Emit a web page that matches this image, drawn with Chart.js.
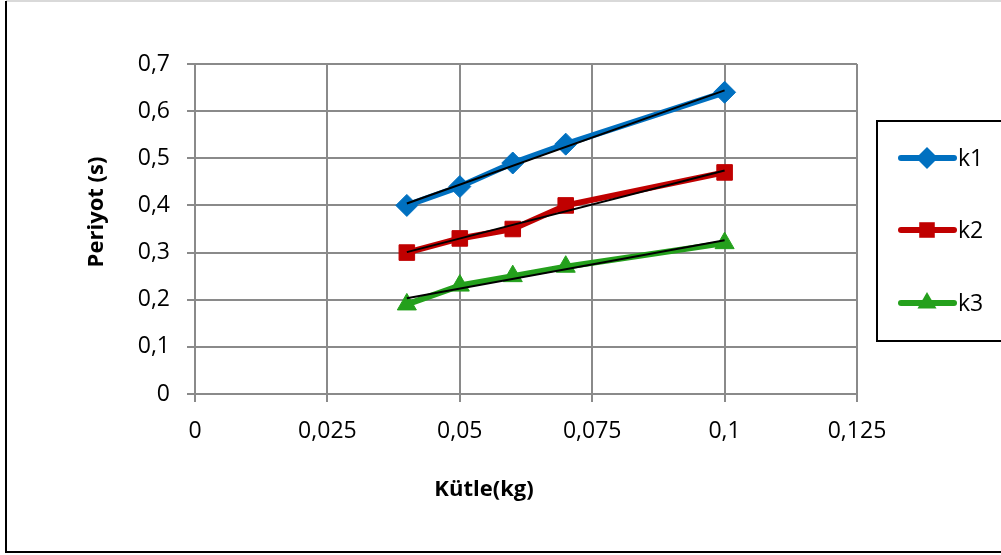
<!DOCTYPE html>
<html>
<head>
<meta charset="utf-8">
<script src="https://cdn.jsdelivr.net/npm/chart.js@4.4.0/dist/chart.umd.min.js"></script>
<style>
  html, body { margin: 0; padding: 0; background: #fff; }
  #wrap { width: 1001px; height: 555px; }
</style>
</head>
<body>
<div id="wrap"><canvas id="chart" width="1001" height="555"></canvas></div>
<script>
const masses = [0.04, 0.05, 0.06, 0.07, 0.1]
const periodK1 = [0.40, 0.44, 0.49, 0.53, 0.64]
const periodK2 = [0.30, 0.33, 0.35, 0.40, 0.47]
const periodK3 = [0.19, 0.23, 0.25, 0.27, 0.32]

// black trend lines, end points
const trendX = [0.04, 0.1]
const trendK1 = [0.404, 0.644]
const trendK2 = [0.301, 0.474]
const trendK3 = [0.203, 0.326]

const xTicks = [0, 0.025, 0.05, 0.075, 0.1, 0.125]
const yTicks = [0, 0.1, 0.2, 0.3, 0.4, 0.5, 0.6, 0.7]

const seriesNames = ['k1', 'k2', 'k3']
const seriesColors = ['#0070C0', '#C00000', '#24A01C']
const seriesPoints = ['rectRot', 'rect', 'triangle']

const FONT = "'Open Sans', sans-serif"
const GRID = '#8a8a8a'

const toPoints = (xs, ys) => xs.map((x, i) => ({ x, y: ys[i] }))
const comma = v => String(+Number(v).toFixed(3)).replace('.', ',')

const seriesDataset = (idx, values) => ({
  label: seriesNames[idx],
  data: toPoints(masses, values),
  borderColor: seriesColors[idx],
  backgroundColor: seriesColors[idx],
  borderWidth: 6,
  borderJoinStyle: 'round',
  borderCapStyle: 'round',
  pointStyle: seriesPoints[idx],
  pointRadius: 11,
  pointBorderWidth: 1,
  tension: 0,
  order: 1
})

const trendDataset = values => ({
  label: 'trend',
  data: toPoints(trendX, values),
  borderColor: '#000',
  borderWidth: 2,
  pointRadius: 0,
  tension: 0,
  order: 0
})

const drawMarker = (ctx, style, x, y, r, color) => {
  ctx.fillStyle = color
  ctx.beginPath()
  if (style === 'rectRot') {
    ctx.moveTo(x, y - r)
    ctx.lineTo(x + r, y)
    ctx.lineTo(x, y + r)
    ctx.lineTo(x - r, y)
  } else if (style === 'rect') {
    const s = r * Math.SQRT1_2
    ctx.rect(x - s, y - s, 2 * s, 2 * s)
  } else {
    const h = Math.sqrt(3) / 2
    ctx.moveTo(x, y - r)
    ctx.lineTo(x + r * h, y + r / 2)
    ctx.lineTo(x - r * h, y + r / 2)
  }
  ctx.closePath()
  ctx.fill()
}

const decorPlugin = {
  id: 'decor',
  afterDraw(chart) {
    const ctx = chart.ctx
    ctx.save()

    // outer frame
    ctx.lineWidth = 2
    ctx.strokeStyle = '#d9d9d9'
    ctx.beginPath()
    ctx.moveTo(6, 1)
    ctx.lineTo(1001, 1)
    ctx.stroke()
    ctx.strokeStyle = '#000'
    ctx.beginPath()
    ctx.moveTo(6, 1)
    ctx.lineTo(6, 552)
    ctx.lineTo(1002, 552)
    ctx.stroke()

    // axis titles
    ctx.fillStyle = '#000'
    ctx.font = 'bold 22px ' + FONT
    ctx.textAlign = 'center'
    ctx.textBaseline = 'middle'
    ctx.fillText('Kütle(kg)', 484, 490)
    ctx.save()
    ctx.translate(97, 212)
    ctx.rotate(-Math.PI / 2)
    ctx.fillText('Periyot (s)', 0, 0)
    ctx.restore()

    // legend box
    ctx.lineWidth = 2
    ctx.strokeStyle = '#000'
    ctx.strokeRect(877, 121, 140, 220)
    const rows = [158, 230, 303]
    ctx.font = '23px ' + FONT
    ctx.textAlign = 'left'
    rows.forEach((y, i) => {
      ctx.strokeStyle = seriesColors[i]
      ctx.lineWidth = 6
      ctx.lineCap = 'round'
      ctx.beginPath()
      ctx.moveTo(901, y)
      ctx.lineTo(954, y)
      ctx.stroke()
      drawMarker(ctx, seriesPoints[i], 927, y, 11, seriesColors[i])
      ctx.fillStyle = '#000'
      ctx.fillText(seriesNames[i], 958, y + 1)
    })
    ctx.restore()
  }
}

new Chart(document.getElementById('chart'), {
  type: 'line',
  data: {
    datasets: [
      trendDataset(trendK1),
      trendDataset(trendK2),
      trendDataset(trendK3),
      seriesDataset(0, periodK1),
      seriesDataset(1, periodK2),
      seriesDataset(2, periodK3)
    ]
  },
  options: {
    responsive: false,
    animation: false,
    layout: { padding: { top: 64, right: 144, left: 0, bottom: 0 } },
    plugins: {
      legend: { display: false },
      tooltip: { enabled: false }
    },
    scales: {
      x: {
        type: 'linear',
        min: 0,
        max: 0.125,
        afterBuildTicks: scale => {
          scale.ticks = xTicks.map(value => ({ value }))
        },
        afterFit: scale => {
          scale.height = 161
          scale.paddingLeft = 0
          scale.paddingRight = 0
        },
        grid: { color: GRID, lineWidth: 2, tickLength: 8, tickColor: GRID },
        border: { color: GRID, width: 2 },
        ticks: {
          color: '#000',
          padding: 16,
          maxRotation: 0,
          font: { family: FONT, size: 23 },
          callback: v => comma(v)
        }
      },
      y: {
        min: 0,
        max: 0.7,
        afterBuildTicks: scale => {
          scale.ticks = yTicks.map(value => ({ value }))
        },
        afterFit: scale => {
          scale.width = 195
          scale.paddingTop = 0
          scale.paddingBottom = 0
        },
        grid: { color: GRID, lineWidth: 2, tickLength: 8, tickColor: GRID },
        border: { color: GRID, width: 2 },
        ticks: {
          color: '#000',
          padding: 17,
          font: { family: FONT, size: 23 },
          callback: v => comma(v)
        }
      }
    }
  },
  plugins: [decorPlugin]
})
</script>
</body>
</html>
